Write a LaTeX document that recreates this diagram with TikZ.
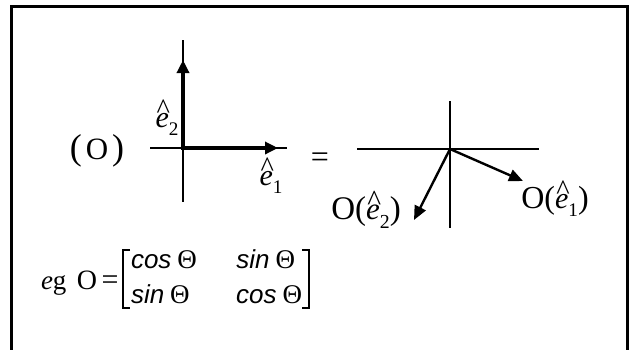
\documentclass[tikz,border=0pt]{standalone}
\usepackage{fontspec}
\usepackage{graphicx}
\setmainfont{Liberation Serif}
\newfontfamily\arialf{Liberation Sans}
\usetikzlibrary{arrows.meta}
\newcommand{\ehat}[1]{\mbox{\rlap{\kern0.04em\raisebox{0.28em}{\scalebox{0.95}{\upshape\char"5E}}}\textit{e}\raisebox{-0.28em}{\scalebox{0.64}{#1}}}}
\newcommand{\fs}[1]{\fontsize{#1}{#1}\selectfont}
\newcommand{\mcos}{{\fs{26}\arialf\itshape cos}\kern6pt{\fs{27}Θ}}
\newcommand{\msin}{{\fs{26}\arialf\itshape sin}\kern6pt{\fs{27}Θ}}
\begin{document}
\begin{tikzpicture}[x=1pt,y=-1pt,
  frame/.style={line width=3pt},
  axis/.style={line width=1.8pt},
  vec/.style={line width=4.5pt,line cap=rect,-{Triangle[length=13pt,width=12pt]}},
  ovec/.style={line width=2.4pt,-{Triangle[length=14pt,width=12pt]}},
  brk/.style={line width=2.6pt},
  lbl/.style={inner sep=0pt,outer sep=0pt}]
\useasboundingbox (0,0) rectangle (629,349);
% frame (open at the bottom)
\draw[frame] (11,352) -- (11,6) -- (627,6) -- (627,352);

% left axes
\coordinate (o1) at (183,148);
\coordinate (lxl) at (150,148);
\coordinate (lxr) at (287,148);
\coordinate (lyt) at (183,40);
\coordinate (lyb) at (183,202);
\coordinate (e1tip) at (278,148);
\coordinate (e2tip) at (183,60);
\draw[axis] (lxl) -- (lxr);
\draw[axis] (lyt) -- (lyb);
\draw[vec] (o1) -- (e1tip);
\draw[vec] (o1) -- (e2tip);

\node[lbl] (lO) at (97,151) {\fs{36}(\kern4pt{\fs{31}O}\kern4pt)};
\node[lbl] (le2) at (167,118) {\fs{30}\ehat{2}};
\node[lbl] (le1) at (271,176) {\fs{30}\ehat{1}};
\node[lbl,anchor=base] (eq1) at (320,167) {\fs{32}=};

% right axes
\coordinate (o2) at (450,149);
\coordinate (rxl) at (357,149);
\coordinate (rxr) at (539,149);
\coordinate (ryt) at (450,101);
\coordinate (ryb) at (450,228);
\coordinate (r1tip) at (523,181);
\coordinate (r2tip) at (414,220);
\draw[axis] (rxl) -- (rxr);
\draw[axis] (ryt) -- (ryb);
\draw[ovec] (o2) -- (r1tip);
\draw[ovec] (o2) -- (r2tip);
\node[lbl] (lr1) at (555,199) {\fs{32}O(\fs{30}\ehat{1}\fs{32})};
\node[lbl] (lr2) at (366,210) {\fs{33}O(\fs{31}\ehat{2}\fs{33})};

% formula
\node[lbl,anchor=base west] (eg) at (41,289) {\fs{27}\textit{e}g};
\node[lbl,anchor=base] (Of) at (87,289) {\fs{28}O};
\node[lbl,anchor=base] (eqf) at (110,289) {\fs{30}=};
\node[lbl,anchor=base west] (m11) at (131,268) {\mcos};
\node[lbl,anchor=base east] (m12) at (295,268) {\msin};
\node[lbl,anchor=base west] (m21) at (131,303) {\msin};
\node[lbl,anchor=base east] (m22) at (302,303) {\mcos};
\draw[brk] (130,250) -- (123,250) -- (123,308) -- (130,308);
\draw[brk] (302,250) -- (309,250) -- (309,308) -- (302,308);
\end{tikzpicture}
\end{document}
